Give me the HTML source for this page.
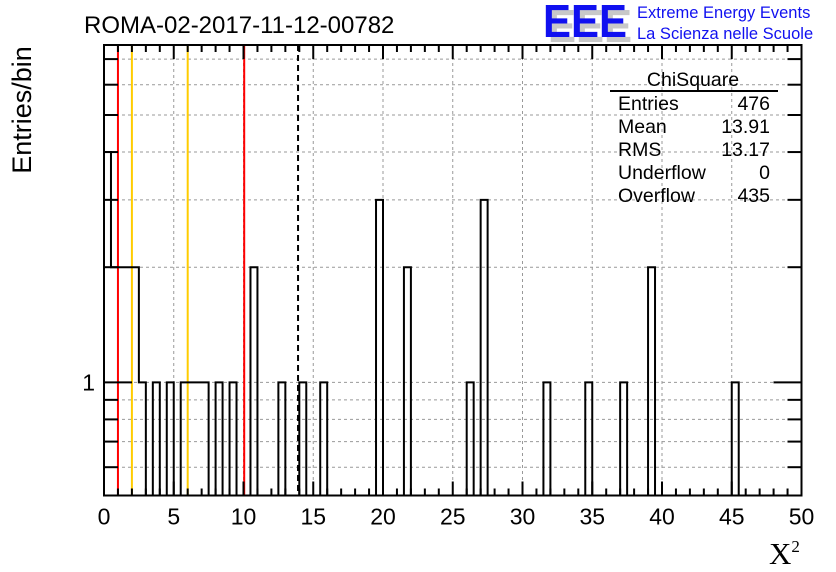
<!DOCTYPE html>
<html><head><meta charset="utf-8"><style>
html,body{margin:0;padding:0;background:#fff;}
svg{display:block;font-family:"Liberation Sans",sans-serif;}
</style></head><body>
<svg id="chart" width="836" height="572" viewBox="0 0 836 572" xmlns="http://www.w3.org/2000/svg">
<rect width="836" height="572" fill="#fff"/>
<g id="grid"></g>
<g id="lines"></g>
<g id="hist"></g>
<g id="axes"></g>
<text x="84" y="33" font-size="24">ROMA-02-2017-11-12-00782</text>
<text transform="translate(31,110) rotate(-90)" text-anchor="middle" font-size="27">Entries/bin</text>
<text x="769" y="564" font-family="Liberation Serif,serif" font-size="31">X<tspan font-size="17" dy="-12">2</tspan></text>
<g>
<text x="548" y="42" font-size="46" font-weight="bold" fill="#c8c8c8" textLength="84" lengthAdjust="spacingAndGlyphs">EEE</text>
<text x="543" y="37" font-size="46" font-weight="bold" fill="#1010f0" textLength="84" lengthAdjust="spacingAndGlyphs">EEE</text>
<text x="637" y="18" font-size="16.5" fill="#1010f0">Extreme Energy Events</text>
<text x="637" y="39" font-size="16.5" fill="#1010f0">La Scienza nelle Scuole</text>
</g>
<g font-size="19.5">
<text x="693" y="86" text-anchor="middle">ChiSquare</text>
<line x1="610" y1="91" x2="778" y2="91" stroke="#000" stroke-width="2"/>
<text x="618" y="110">Entries</text><text x="770" y="110" text-anchor="end">476</text>
<text x="618" y="133">Mean</text><text x="770" y="133" text-anchor="end">13.91</text>
<text x="618" y="156">RMS</text><text x="770" y="156" text-anchor="end">13.17</text>
<text x="618" y="179">Underflow</text><text x="770" y="179" text-anchor="end">0</text>
<text x="618" y="202">Overflow</text><text x="770" y="202" text-anchor="end">435</text>
</g>
</svg>
<script>
const binLow = [0, 0.5, 1, 1.5, 2, 2.5, 3.5, 4.5, 5.5, 6, 6.5, 7, 8, 9, 10.5, 12.5, 14, 15.5, 19.5, 21.5, 26, 27, 31.5, 34.5, 37, 39, 45];
const binCounts = [4, 2, 2, 2, 2, 1, 1, 1, 1, 1, 1, 1, 1, 1, 2, 1, 1, 1, 3, 2, 1, 3, 1, 1, 1, 2, 1];
const binWidth = 0.5;
const xTicks = [0, 5, 10, 15, 20, 25, 30, 35, 40, 45, 50];
const yGridVals = [0.6, 0.7, 0.8, 0.9, 1, 2, 3, 4, 5, 6, 7];
const redLines = [1, 10.05];
const yellowLines = [2, 6];
const meanLine = [13.91];

const X0=104, X1=801.5, Y0=495.5, Y1=45;
const xMin=0, xMax=50, yMin=0.506, yMax=7.62;
const NS="http://www.w3.org/2000/svg";
function sx(v){return X0+(v-xMin)/(xMax-xMin)*(X1-X0);}
function sy(v){return Y0-(Math.log10(v)-Math.log10(yMin))/(Math.log10(yMax)-Math.log10(yMin))*(Y0-Y1);}
function mk(tag,attrs,parent){const e=document.createElementNS(NS,tag);for(const k in attrs)e.setAttribute(k,attrs[k]);parent.appendChild(e);return e;}

const grid=document.getElementById('grid');
xTicks.forEach(v=>{if(v>xMin&&v<xMax){
 const l=mk('line',{x1:sx(v),x2:sx(v),y1:Y1,y2:Y0,stroke:'#999','stroke-dasharray':'3,3','stroke-width':1},grid);
 
 
}});
yGridVals.forEach(v=>{
 const l=mk('line',{x1:X0,x2:X1,y1:sy(v),y2:sy(v),stroke:'#999','stroke-dasharray':'3,3','stroke-width':1},grid);
 
 
});

const lines=document.getElementById('lines');
redLines.forEach(v=>{const l=mk('line',{x1:sx(v),x2:sx(v),y1:Y1,y2:Y0,stroke:'#f00','stroke-width':2},lines);
 
 });
yellowLines.forEach(v=>{const l=mk('line',{x1:sx(v),x2:sx(v),y1:Y1,y2:Y0,stroke:'#fc0','stroke-width':2},lines);
 
 });
meanLine.forEach(v=>{const l=mk('line',{x1:sx(v),x2:sx(v),y1:Y1,y2:Y0,stroke:'#000','stroke-width':2,'stroke-dasharray':'6,4'},lines);
 
 });

const counts=new Array(100).fill(0);
binLow.forEach((lo,i)=>{counts[Math.round(lo/binWidth)]=binCounts[i];});
let d='M'+sx(0)+','+Y0;
for(let i=0;i<100;i++){
 const c=counts[i]; const yy=c>0?sy(c):Y0; const xl=sx(i*binWidth), xr=sx((i+1)*binWidth);
 d+=' L'+xl+','+yy+' L'+xr+','+yy;
}
d+=' L'+sx(50)+','+Y0;
const hist=document.getElementById('hist');
const p=mk('path',{d:d,fill:'none',stroke:'#000','stroke-width':2},hist);



const axes=document.getElementById('axes');
const fr=mk('rect',{x:X0,y:Y1,width:X1-X0,height:Y0-Y1,fill:'none',stroke:'#000','stroke-width':2},axes);


for(let v=xMin;v<=xMax;v+=1){
 const len=(v%5===0)?14:7;
 mk('line',{x1:sx(v),x2:sx(v),y1:Y0,y2:Y0-len,stroke:'#000','stroke-width':2},axes);
 mk('line',{x1:sx(v),x2:sx(v),y1:Y1,y2:Y1+len,stroke:'#000','stroke-width':2},axes);
}
xTicks.forEach(v=>{
 const t=mk('text',{x:sx(v),y:Y0+29,'text-anchor':'middle','font-size':23},axes);
 t.textContent=v;
 
 
});
yGridVals.forEach(v=>{
 const len=(v===1)?28:14;
 mk('line',{x1:X0,x2:X0+len,y1:sy(v),y2:sy(v),stroke:'#000','stroke-width':2},axes);
 mk('line',{x1:X1,x2:X1-len,y1:sy(v),y2:sy(v),stroke:'#000','stroke-width':2},axes);
});
const yl=mk('text',{x:X0-9,y:sy(1)+8,'text-anchor':'end','font-size':23},axes);
yl.textContent='1';


</script>
</body></html>
